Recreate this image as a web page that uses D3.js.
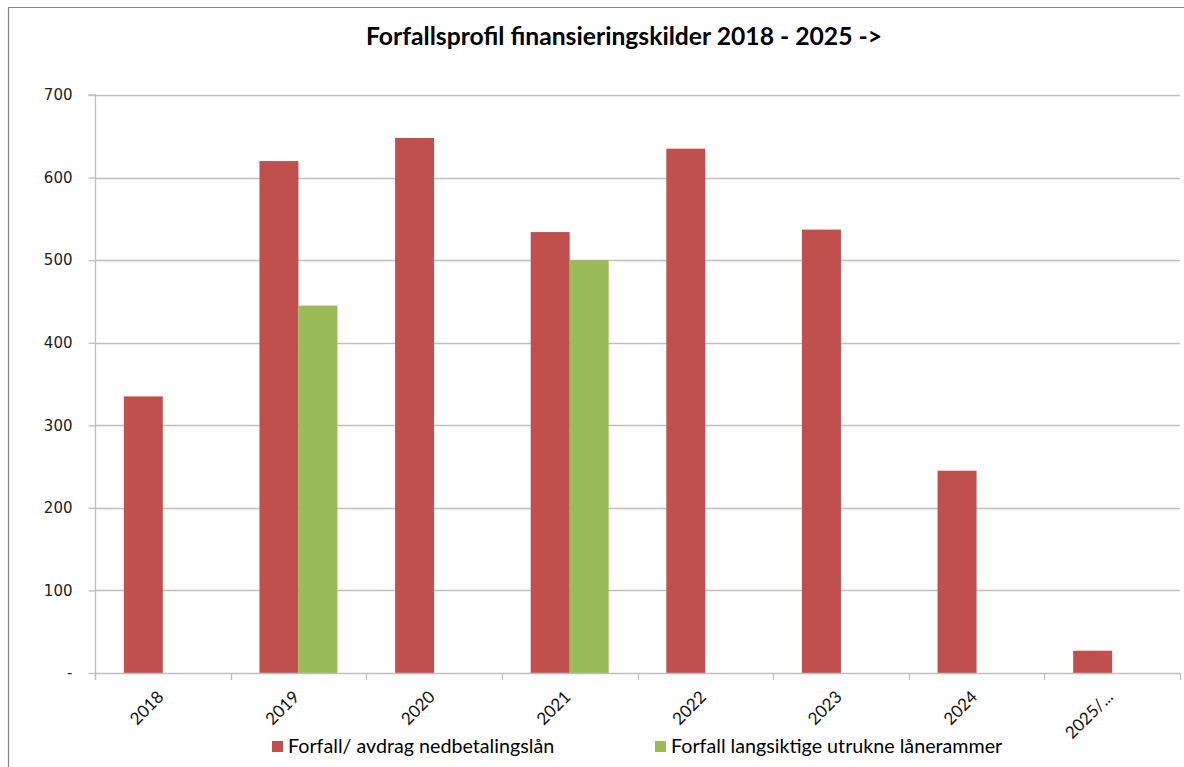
<!DOCTYPE html>
<html>
<head>
<meta charset="utf-8">
<script src="https://cdn.jsdelivr.net/npm/d3@7"></script>
<style>
  html, body { margin: 0; padding: 0; background: #fff; }
  svg { display: block; }
</style>
</head>
<body>
<svg id="chart" width="1184" height="767"></svg>
<script>
const title = "Forfallsprofil finansieringskilder 2018 - 2025 ->";
const categories = ["2018", "2019", "2020", "2021", "2022", "2023", "2024", "2025/..."];
const seriesNames = ["Forfall/ avdrag nedbetalingslån", "Forfall langsiktige utrukne lånerammer"];
const loans = [335, 620, 648, 534, 635, 537, 245, 27];
const frames = [null, 445, null, 500, null, null, null, null];
const yTicks = [0, 100, 200, 300, 400, 500, 600, 700];
const colors = ["#c0504d", "#9bbb59"];

const svg = d3.select("#chart");
const font = "Lato, 'Liberation Sans', Arial, sans-serif";
const yFont = "'DejaVu Sans', Verdana, sans-serif";

// outer border
svg.append("path")
  .attr("d", "M8.5,770 V7.5 H1190")
  .attr("fill", "none").attr("stroke", "#868686").attr("stroke-width", 1.2);

const pLeft = 95, pRight = 1180, pTop = 95, pBottom = 673;

const x = d3.scaleBand().domain(categories).range([pLeft, pRight]);
const y = d3.scaleLinear().domain([0, 700]).range([pBottom, pTop]);
const xs = d3.scaleBand().domain([0, 1]).range([0, 78]);

// gridlines
svg.append("g").selectAll("line").data(yTicks.filter(d => d > 0)).join("line")
  .attr("x1", pLeft).attr("x2", pRight)
  .attr("y1", d => Math.round(y(d)) + 0.5).attr("y2", d => Math.round(y(d)) + 0.5)
  .attr("stroke", "#bfbfbf").attr("stroke-width", 1.3);

// y axis
const yAxis = d3.axisLeft(y).tickValues(yTicks).tickSize(7).tickPadding(16)
  .tickFormat(d => d === 0 ? "-" : d);
const gy = svg.append("g").attr("transform", `translate(${pLeft + 0.5},0)`).call(yAxis);
gy.select(".domain").attr("stroke", "#bfbfbf").attr("stroke-width", 1.3).attr("d", `M-7,${pTop}H0V${pBottom + 7}`);
gy.selectAll(".tick line").attr("stroke", "#bfbfbf").attr("stroke-width", 1.3);
gy.selectAll(".tick text").attr("font-family", yFont).attr("font-size", 15).attr("fill", "#222");

// bars
const data = [loans, frames];
data.forEach((arr, si) => {
  svg.append("g").selectAll("rect").data(categories.map((c, i) => ({c, v: arr[i]})).filter(d => d.v != null)).join("rect")
    .attr("x", d => x(d.c) + (x.bandwidth() - 78) / 2 + xs(si))
    .attr("width", xs.bandwidth())
    .attr("y", d => y(d.v))
    .attr("height", d => y(0) - y(d.v))
    .attr("fill", colors[si]);
});

// x axis
const xAxis = d3.axisBottom(x).tickSize(0).tickFormat("");
const gx = svg.append("g").attr("transform", `translate(0,${pBottom + 0.5})`).call(xAxis);
gx.select(".domain").attr("stroke", "#bfbfbf").attr("stroke-width", 1.3).attr("d", `M${pLeft},0H${pRight}`);
// category boundary ticks
svg.append("g").selectAll("line").data(categories.concat(["__end"])).join("line")
  .attr("x1", (d, i) => Math.round(pLeft + i * x.step()) + 0.5)
  .attr("x2", (d, i) => Math.round(pLeft + i * x.step()) + 0.5)
  .attr("y1", pBottom).attr("y2", pBottom + 7)
  .attr("stroke", "#bfbfbf").attr("stroke-width", 1.3);

svg.append("g").selectAll("text").data(categories).join("text")
  .attr("transform", d => `translate(${x(d) + x.bandwidth() / 2 + 2},${pBottom + 25}) rotate(-45)`)
  .attr("text-anchor", "end")
  .attr("font-family", font).attr("font-size", 17).attr("fill", "#111")
  .text(d => d);

// title
svg.append("text").attr("x", 624).attr("y", 45).attr("text-anchor", "middle")
  .attr("font-family", font).attr("font-size", 24.7).attr("font-weight", "bold").attr("fill", "#000")
  .text(title);

// legend
const legendX = [272, 655];
seriesNames.forEach((n, i) => {
  const g = svg.append("g").attr("transform", `translate(${legendX[i]},741)`);
  g.append("rect").attr("width", 11).attr("height", 11).attr("fill", colors[i]);
  g.append("text").attr("x", 16).attr("y", 12).attr("font-family", font).attr("font-size", 19.7)
    .attr("fill", "#000").text(n);
});
</script>
</body>
</html>
